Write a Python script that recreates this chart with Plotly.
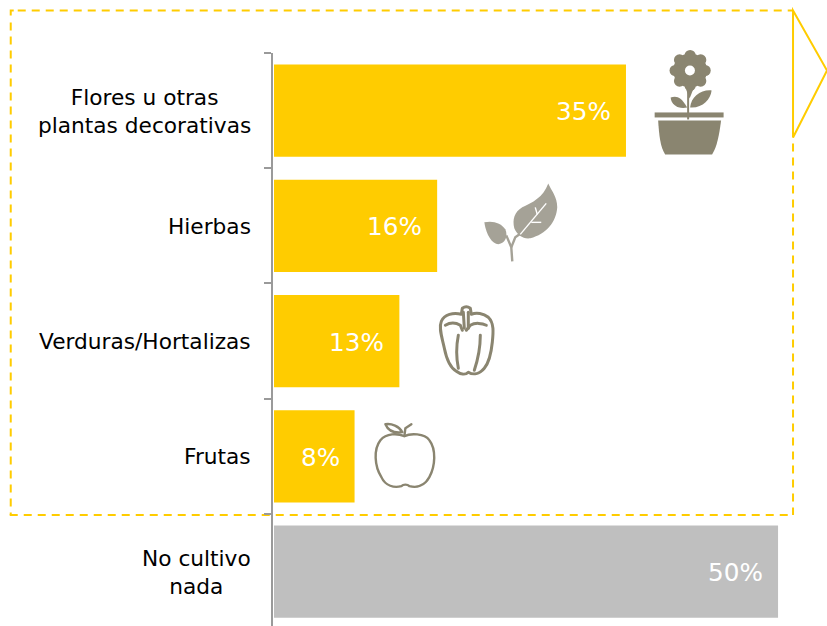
import base64
import plotly.graph_objects as go

categories = ["Flores u otras<br>plantas decorativas", "Hierbas", "Verduras/Hortalizas", "Frutas", "No cultivo<br>nada"]
values = [34.95, 16.2, 12.45, 8.0, 50.05]
value_labels = ["35%", "16%", "13%", "8%", "50%"]
bar_colors = ["#FFCC00", "#FFCC00", "#FFCC00", "#FFCC00", "#BFBFBF"]

W, H = 827, 626
L, T = 272.5, 52.5
R = 827
X0 = 273.5
PX_PER_UNIT = 10.08
YELLOW = "#FFCC00"
OLIVE = "#8A8570"
SAGE = "#A5A297"
AXIS = "#9A9A9A"


def px(x):
    return (x - L) / (R - L)


def py(y):
    return 1 - (y - T) / (H - T)


def svg_uri(x0, y0, w, h, body, blur):
    s = (f'<svg xmlns="http://www.w3.org/2000/svg" width="{w}" height="{h}" viewBox="{x0} {y0} {w} {h}">'
         f'<defs><filter id="b"><feGaussianBlur stdDeviation="{blur}"/></filter></defs><g filter="url(#b)">{body}</g></svg>')
    return "data:image/svg+xml;base64," + base64.b64encode(s.encode()).decode()


def icon(x0, y0, w, h, body, blur=0.55):
    return dict(source=svg_uri(x0, y0, w, h, body, blur), xref="paper", yref="paper", x=px(x0), y=py(y0),
                sizex=w / (R - L), sizey=h / (H - T), xanchor="left", yanchor="top", sizing="stretch", layer="above")


flower = f'''
<g fill="{OLIVE}">
<circle cx="690" cy="70" r="17"/>
<circle cx="690" cy="55" r="5.6"/><circle cx="700.6" cy="59.4" r="5.6"/><circle cx="705" cy="70" r="5.6"/>
<circle cx="700.6" cy="80.6" r="5.6"/><circle cx="690" cy="85" r="5.6"/><circle cx="679.4" cy="80.6" r="5.6"/>
<circle cx="675" cy="70" r="5.6"/><circle cx="679.4" cy="59.4" r="5.6"/>
<path d="M686 89 L693 89 L689.5 98 Z"/>
<path d="M687 107 C681 96 676 95 670.5 97 C671 104 678 109 687 107 Z"/>
<path d="M690 107 C691 96 701 89 711.5 90 C710.5 99 702 108 690 107 Z"/>
<rect x="654.5" y="112" width="69" height="5"/>
<path d="M658 120 L721 120 C719 135 717 146 712 154 L665 154 C660 146 659 135 658 120 Z"/>
</g>
<circle cx="689.8" cy="70" r="5" fill="white"/>
<path d="M688 90 L688 119" stroke="{OLIVE}" stroke-width="2" fill="none"/>
'''

leaf = f'''
<g fill="{SAGE}">
<path d="M548 183 C551 190 557 196 557 207 C556 222 546 234 530 238 C523 239 517 235 514 228 C512 219 514 212 522 207 C532 202 543 197 548 183 Z"/>
<path d="M484 222 C493 220 501 223 505 229 C508 236 505 243 498 244 C492 244 486 235 484 222 Z"/>
</g>
<g fill="none" stroke="{SAGE}" stroke-width="2.4">
<path d="M512 261 L511 247 L506 235"/>
<path d="M511 247 L515 237 L522 232"/>
</g>
<g fill="none" stroke="white" stroke-width="1.4">
<path d="M520 234 L546 203"/><path d="M531 222 L541 222"/><path d="M537 214 L535 207"/>
</g>
'''

pepper = f'''
<g fill="none" stroke="{OLIVE}" stroke-width="3" stroke-linejoin="round" stroke-linecap="round">
<path d="M462 308 Q466 305 470 308 L471 314 C476 312 483 313 488 317 C494 323 493 332 492 342 C491 352 489 362 484 368 C479 374 473 375 468 372 C465 375 460 374 456 371 C449 367 446 358 444 348 C442 338 438 328 441 321 C444 314 453 312 461 314 Z"/>
<path d="M445 325 C450 322 455 322 460 325 L462 330"/>
<path d="M466 330 L470 325 C475 322 482 323 486 325"/>
<path d="M463 312 L464 328"/><path d="M468 312 L468 328"/>
<path d="M458 335 C456 345 456 358 458 368"/>
<path d="M480 335 C480 348 478 358 474 370"/>
</g>
'''

apple = f'''
<g fill="none" stroke="{OLIVE}" stroke-width="2.4" stroke-linejoin="round" stroke-linecap="round">
<path d="M404 436 C410 433 424 433 429 440 C436 449 435 466 429 477 C424 486 416 488 409 486 C407 484 403 484 401 486 C394 488 385 486 381 477 C374 466 373 449 380 440 C386 433 397 433 404 436 Z"/>
<path d="M404 436 L405 428 L411 424"/>
<path d="M385 424 C391 423 399 426 402 432 C395 433 388 431 385 424 Z"/>
</g>
'''

images = [icon(650, 44, 78, 114, flower), icon(480, 180, 80, 86, leaf),
          icon(434, 302, 64, 76, pepper, 0.7), icon(370, 420, 68, 70, apple, 0.7)]

fig = go.Figure(go.Bar(y=categories, x=values, orientation="h", marker=dict(color=bar_colors, line_width=0),
                       width=0.8, hoverinfo="skip"))

annotations = []
for c, v, t in zip(categories, values, value_labels):
    annotations.append(dict(x=v, y=c, xref="x", yref="y", text=t, showarrow=False, xanchor="right", xshift=-13, yshift=-1,
                            font=dict(family="DejaVu Sans", size=24.7, color="white")))
    annotations.append(dict(x=px(252.5), y=c, xref="paper", yref="y", text=c, showarrow=False, xanchor="right", align="center",
                            yshift=-0.5, font=dict(family="DejaVu Sans", size=21.7, color="black")))


def dashed(points):
    d = " L".join(f"{px(x)} {py(y)}" for x, y in points)
    return dict(type="path", xref="paper", yref="paper", layer="below", path="M" + d,
                line=dict(color=YELLOW, width=2, dash="8px,6px"))


shapes = [
    dashed([(17, 10), (793, 10)]),
    dashed([(10, 22), (10, 515)]),
    dashed([(9, 515), (793, 515)]),
    dashed([(793, 143), (793, 515)]),
    dict(type="path", xref="paper", yref="paper", layer="below",
         path=f"M{px(10)} {py(15)} L{px(10)} {py(10)} L{px(13)} {py(10)}", line=dict(color=YELLOW, width=2)),
    dict(type="path", xref="paper", yref="paper", layer="below",
         path=f"M{px(793)} {py(10)} L{px(827)} {py(70)} L{px(793)} {py(137)} Z",
         line=dict(color=YELLOW, width=2)),
]

fig.update_layout(
    width=W, height=H, autosize=False, paper_bgcolor="white", plot_bgcolor="rgba(0,0,0,0)",
    margin=dict(l=L, r=W - R, t=T, b=0, pad=0), showlegend=False, bargap=0.2,
    xaxis=dict(range=[(L - X0) / PX_PER_UNIT, (R - X0) / PX_PER_UNIT], visible=False, fixedrange=True),
    yaxis=dict(type="category", categoryorder="array", categoryarray=categories, range=[4.472, -0.5],
               showline=True, linecolor=AXIS, linewidth=2, ticks="outside", tickson="boundaries",
               ticklen=7, tickcolor=AXIS, tickwidth=1.5, showticklabels=False, showgrid=False, zeroline=False,
               fixedrange=True),
    annotations=annotations, shapes=shapes, images=images,
)
fig.write_html("out.html", config=dict(displayModeBar=False),
               post_script="document.body.style.margin='0';document.documentElement.style.overflow='hidden';")
